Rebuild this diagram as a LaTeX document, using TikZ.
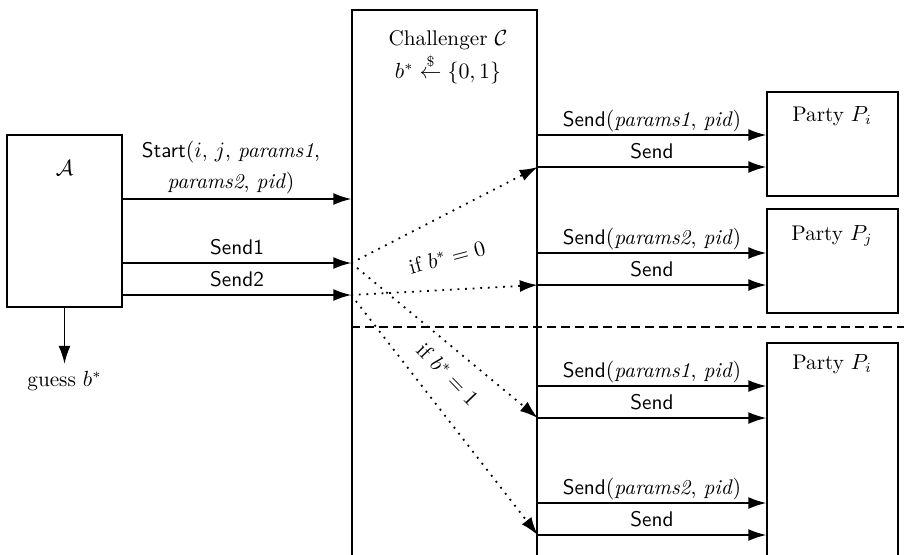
\documentclass[tikz,border=0pt]{standalone}
\usepackage{amsmath}
\usetikzlibrary{arrows.meta,positioning}

\tikzset{
  box/.style={draw, line width=0.75pt, inner sep=0pt},
  msg/.style={->, line width=0.75pt},
  maybe/.style={->, line width=0.9pt, dash pattern=on 0.9pt off 2.9pt},
  cut/.style={line width=0.75pt, dash pattern=on 4.5pt off 2.5pt},
  lbl/.style={above, inner sep=1.5pt, text depth=2.5pt},
}

\begin{document}
\begin{tikzpicture}[x=0.5pt,y=-0.5pt,>={Latex[length=9pt,width=6pt]},
  every node/.style={font=\fontsize{10.6}{12.7}\selectfont}]
\clip (0,0) rectangle (904,554);

%adversary
\node[box, minimum width=57.5pt, minimum height=86pt] (A) at (64.5,221) {};
\node (Atxt) at (64.5,168) {$\mathcal{A}$};
\node[below=28pt of A] (guess) {guess $b^*$};
\draw[msg] (A) -- (guess);

%challenger
\node[box, minimum width=92.5pt, minimum height=300pt, anchor=north] (ch) at (444.5,9) {};
\node[align=center] (chtxt) at (448,57) {Challenger $\mathcal{C}$\\[1pt] $b^* \stackrel{\$}{\leftarrow} \{0,1\}$};

%parties
\node[box, minimum width=65.5pt, minimum height=52pt] (Pi) at (832.5,144) {};
\node (Pitxt) at (832,116) {Party $P_i$};
\node[box, minimum width=65.5pt, minimum height=52pt] (Pj) at (832.5,261) {};
\node (Pjtxt) at (832,236) {Party $P_j$};
\node[box, minimum width=65.5pt, minimum height=128.5pt] (Pk) at (832.5,471.5) {};
\node (Pktxt) at (832,364) {Party $P_i$};

%queries of the adversary
\coordinate (e1) at (ch.west |- 0,263);
\coordinate (e2) at (ch.west |- 0,295);
\draw[msg] (A.east |- 0,199) -- (ch.west |- 0,199)
  node[above, midway, xshift=-3pt, align=center, inner sep=2pt] {\textsf{Start}$($$i$, $j$, \textit{params1},\\[3pt] \textit{params2}, \textit{pid}$)$};
\draw[msg] (A.east |- e1) -- (e1) node[lbl, midway] {\textsf{Send1}};
\draw[msg] (A.east |- e2) -- (e2) node[lbl, midway] {\textsf{Send2}};

%queries of the challenger
\draw[msg] (ch.east |- 0,135) -- (Pi.west |- 0,135) node[lbl, midway] {\textsf{Send}$($\textit{params1}, \textit{pid}$)$};
\draw[msg] (ch.east |- 0,167) -- (Pi.west |- 0,167) node[lbl, midway] {\textsf{Send}};
\draw[msg] (ch.east |- 0,253) -- (Pj.west |- 0,253) node[lbl, midway] {\textsf{Send}$($\textit{params2}, \textit{pid}$)$};
\draw[msg] (ch.east |- 0,285) -- (Pj.west |- 0,285) node[lbl, midway] {\textsf{Send}};
\draw[msg] (ch.east |- 0,386) -- (Pk.west |- 0,386) node[lbl, midway] {\textsf{Send}$($\textit{params1}, \textit{pid}$)$};
\draw[msg] (ch.east |- 0,418) -- (Pk.west |- 0,418) node[lbl, midway] {\textsf{Send}};
\draw[msg] (ch.east |- 0,503) -- (Pk.west |- 0,503) node[lbl, midway] {\textsf{Send}$($\textit{params2}, \textit{pid}$)$};
\draw[msg] (ch.east |- 0,535) -- (Pk.west |- 0,535) node[lbl, midway] {\textsf{Send}};

%forwarding
\draw[maybe] (e1) -- (ch.east |- 0,167);
\draw[maybe] (e2) -- (ch.east |- 0,285);
\draw[maybe] (e1) -- (ch.east |- 0,418);
\draw[maybe] (e2) -- (ch.east |- 0,535);
\node[rotate=15] (if0) at (447,257) {if $b^* = 0$};
\node[rotate=-46] (if1) at (448,374) {if $b^* = 1$};

%separation
\coordinate (rim) at (904,327);
\draw[cut] (ch.west |- rim) -- (rim);
\end{tikzpicture}
\end{document}
